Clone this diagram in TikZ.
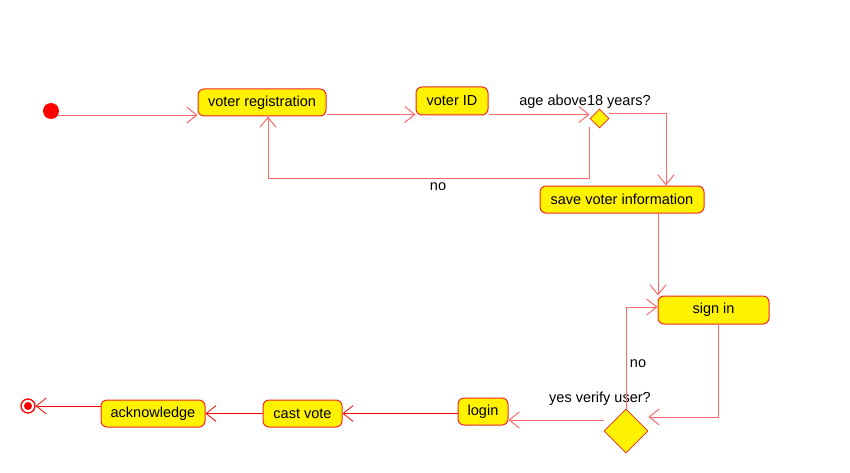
\documentclass[tikz,border=0pt]{standalone}
\usepackage{fontspec}
\setmainfont{Liberation Sans}
\usetikzlibrary{shapes.geometric,arrows.meta}
\definecolor{lred}{RGB}{255,105,105}
\definecolor{bred}{RGB}{240,40,40}
\begin{document}
\begin{tikzpicture}[x=1pt,y=-1pt,
  every node/.style={font=\fontsize{14.5}{16}\selectfont},
  act/.style={draw=bred,fill=yellow,rounded corners=6pt,line width=1pt,minimum height=27pt,inner sep=0pt},
  dec/.style={diamond,draw=bred,fill=yellow,line width=0.8pt,inner sep=0pt,aspect=1},
  arr/.style={draw=lred,line width=1pt,-{Straight Barb[length=10pt,width=16pt]}},
  arrd/.style={draw=red,line width=0.8pt,-{Straight Barb[length=10pt,width=16pt]}},
  lbl/.style={inner sep=0pt}]
\useasboundingbox (0,0) rectangle (850,473);
% nodes
\node[circle,fill=red,minimum size=16pt,inner sep=0pt] (start) at (51,111) {};
\node[act,minimum width=128pt] (vr) at (262,102.5) {voter registration};
\node[act,minimum width=72pt,minimum height=28pt] (vid) at (452,101) {voter ID};
\node[dec,minimum width=19pt,minimum height=19pt] (d1) at (599.5,118.5) {};
\node[act,minimum width=164pt] (save) at (622,199.5) {save voter information};
\node[act,minimum width=111pt,minimum height=28pt] (signin) at (713.5,310) {sign in};
\node[dec,minimum width=44pt,minimum height=44pt] (d2) at (626,431) {};
\node[act,minimum width=50pt] (login) at (483,411.5) {login};
\node[act,minimum width=79pt] (cast) at (302.5,413.5) {cast vote};
\node[act,minimum width=104pt] (ack) at (153,413.5) {acknowledge};
\node[circle,draw=red,line width=1.3pt,fill=white,minimum size=14pt,inner sep=0pt,
  path picture={\fill[red] (path picture bounding box.center) circle (4pt);}] (end) at (28,406) {};
% labels
\node[lbl] (l1) at (585,102) {age above18 years?};
\node[lbl] (l2) at (438,187) {no};
\node[lbl] (l3) at (638,364) {no};
\node[lbl] (l4) at (600,399) {yes verify user?};
% connectors
\draw[arr] (start.-30) -- (start.-30 -| vr.west);
\draw[arr] ([yshift=2pt]vr.south east) -- ([yshift=2pt]vr.south east -| vid.west);
\draw[arr] ([yshift=1pt]vid.south east) -- ([yshift=1pt]vid.south east -| d1.west);
\draw[arr] ([yshift=5pt]d1.east) -| ([xshift=44pt]save.north);
\draw[arr] ([yshift=-9pt]d1.west) -- ++(0,51) -| ([xshift=6pt]vr.south);
\draw[arr] ([xshift=36pt]save.south) -- ([xshift=36pt]save.south |- signin.north);
\draw[arr] ([xshift=4.5pt]signin.south) |- ([yshift=14pt]d2.east);
\draw[arr] (d2.north) |- ([yshift=3pt]signin.west);
\draw[arr] ([yshift=11pt]d2.west) -- ([yshift=11pt]d2.west -| login.east);
\draw[arrd] (cast.east -| login.west) -- (cast.east);
\draw[arrd] (cast.west) -- (cast.west -| ack.east);
\draw[arrd] (end.east -| ack.west) -- (end.east);
\end{tikzpicture}
\end{document}
